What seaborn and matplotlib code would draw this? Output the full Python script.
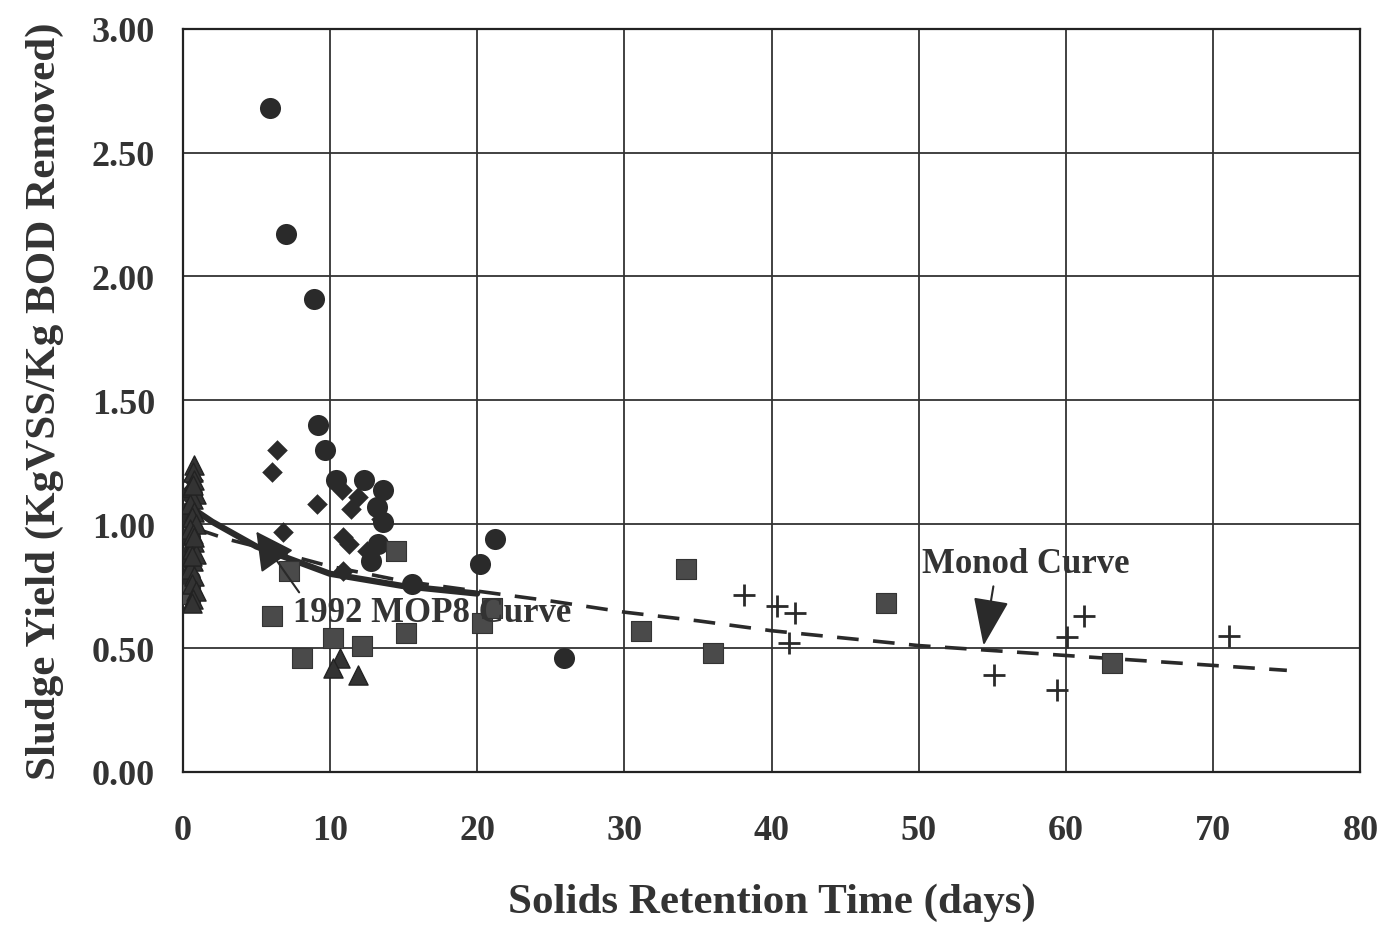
import matplotlib
matplotlib.use("Agg")
import matplotlib.pyplot as plt
import seaborn as sns
import pandas as pd

sns.set_theme(style="white")
plt.rcParams['font.family'] = ['Liberation Serif', 'DejaVu Serif']
plt.rcParams['font.weight'] = 'bold'

# ---- data ----
circle_x = [5.9, 7.0, 8.9, 9.2, 9.7, 10.4, 12.3, 13.6, 13.2, 13.6, 13.3, 12.8, 15.6, 20.2, 21.2, 25.9,
            0.4, 0.5, 0.4, 0.6, 0.5]
circle_y = [2.68, 2.17, 1.91, 1.40, 1.30, 1.18, 1.18, 1.14, 1.07, 1.01, 0.92, 0.85, 0.76, 0.84, 0.94, 0.46,
            1.05, 0.95, 0.86, 1.12, 0.78]

diamond_x = [6.4, 6.1, 10.8, 11.9, 9.1, 11.4, 6.8, 10.9, 11.3, 12.5, 10.9, 13.5, 0.5, 0.6, 0.7]
diamond_y = [1.30, 1.21, 1.14, 1.11, 1.08, 1.06, 0.97, 0.95, 0.92, 0.89, 0.81, 1.02, 1.00, 0.90, 1.18]

square_x = [14.5, 7.2, 6.1, 10.2, 8.1, 12.2, 15.2, 20.3, 21.0, 31.1, 34.2, 36.0, 47.8, 63.1, 0.5]
square_y = [0.89, 0.81, 0.63, 0.54, 0.46, 0.51, 0.56, 0.60, 0.66, 0.57, 0.82, 0.48, 0.68, 0.44, 0.72]

triangle_x = [0.8, 0.7, 0.8, 0.6, 0.9, 0.7, 0.5, 0.8, 0.6, 0.9, 0.5, 0.7, 0.8, 0.6, 0.9, 0.7, 0.5, 0.8,
              0.6, 0.9, 0.7, 0.6, 0.7, 0.8, 0.6, 10.7, 10.2, 11.9]
triangle_y = [1.24, 1.21, 1.18, 1.15, 1.12, 1.10, 1.08, 1.05, 1.03, 1.00, 0.98, 0.96, 0.93, 0.90, 0.88,
              0.85, 0.82, 0.79, 0.76, 0.73, 0.70, 0.68, 1.16, 0.95, 0.87, 0.46, 0.42, 0.39]

plus_x = [38.1, 40.4, 41.6, 41.2, 55.1, 60.1, 59.4, 61.2, 71.1]
plus_y = [0.715, 0.67, 0.64, 0.52, 0.39, 0.545, 0.33, 0.63, 0.55]

mop8_x = [1.0, 2.0, 5.0, 10.0, 15.0, 20.0]
mop8_y = [1.05, 1.01, 0.91, 0.80, 0.75, 0.72]

monod_x = [1, 3, 5, 10, 15, 20, 25, 30, 35, 40, 45, 50, 55, 60, 65, 70, 75]
monod_y = [0.98, 0.94, 0.91, 0.83, 0.77, 0.73, 0.69, 0.645, 0.61, 0.57, 0.54, 0.51, 0.49, 0.47, 0.45, 0.43, 0.41]

x_ticks = [0, 10, 20, 30, 40, 50, 60, 70, 80]
y_ticks = [0.0, 0.5, 1.0, 1.5, 2.0, 2.5, 3.0]
y_tick_labels = ["0.00", "0.50", "1.00", "1.50", "2.00", "2.50", "3.00"]

fig = plt.figure(figsize=(13.84, 9.29), dpi=100)
ax = fig.add_axes([0.132, 0.168, 0.851, 0.800])

ink = "#2a2a2a"
sq = "#4a4a4a"

# curves
sns.lineplot(x=monod_x, y=monod_y, ax=ax, color=ink, lw=2.6, linestyle=(0, (6, 4)), zorder=3)
sns.lineplot(x=mop8_x, y=mop8_y, ax=ax, color=ink, lw=4.5, zorder=3)

# points
sns.scatterplot(x=circle_x, y=circle_y, ax=ax, marker="o", s=230, color=ink, edgecolor=ink, linewidth=0, zorder=4)
sns.scatterplot(x=diamond_x, y=diamond_y, ax=ax, marker="D", s=110, color=ink, edgecolor=ink, linewidth=0, zorder=4)
sns.scatterplot(x=square_x, y=square_y, ax=ax, marker="s", s=200, color=sq, edgecolor="#333333", linewidth=0.8, zorder=4)
sns.scatterplot(x=triangle_x, y=triangle_y, ax=ax, marker="^", s=190, color="#333333", edgecolor="#222222", linewidth=1.0, zorder=4)
sns.scatterplot(x=plus_x, y=plus_y, ax=ax, marker="+", s=260, color=ink, linewidth=2.0, zorder=4)

# annotations
ax.annotate("1992 MOP8 Curve", xy=(5.0, 0.97), xytext=(7.5, 0.645),
            fontsize=25, fontweight="bold", color="#333333", va="center", ha="left",
            arrowprops=dict(arrowstyle="-|>,head_length=0.95,head_width=0.5", color=ink, lw=1.5,
                            shrinkA=0, shrinkB=0, relpos=(0.03, 1.0)), zorder=5)
ax.annotate("Monod Curve", xy=(54.4, 0.51), xytext=(50.2, 0.84),
            fontsize=25, fontweight="bold", color="#333333", va="center", ha="left",
            arrowprops=dict(arrowstyle="-|>,head_length=1.2,head_width=0.45", color=ink, lw=1.5,
                            shrinkA=2, shrinkB=0, relpos=(0.35, 0.0)), zorder=5)

ax.set_xlim(0, 80)
ax.set_ylim(0, 3.0)
ax.set_xticks(x_ticks)
ax.set_yticks(y_ticks)
ax.set_yticklabels(y_tick_labels)
ax.grid(True, color="#333333", lw=1.3)
ax.set_axisbelow(True)
for s in ax.spines.values():
    s.set_color("#222222")
    s.set_linewidth(1.6)
ax.tick_params(axis="both", direction="out", length=8, width=1.4, color="#222222",
               labelsize=26, labelcolor="#333333")
ax.tick_params(axis="x", pad=22)
ax.tick_params(axis="y", pad=12)
for lab in ax.get_xticklabels() + ax.get_yticklabels():
    lab.set_fontweight("bold")

ax.set_xlabel("Solids Retention Time (days)", fontsize=31, fontweight="bold", color="#333333", labelpad=26)
ax.set_ylabel("Sludge Yield (KgVSS/Kg BOD Removed)", fontsize=31, fontweight="bold", color="#333333", labelpad=20)

fig.savefig("out.png", dpi=100, facecolor="white")
